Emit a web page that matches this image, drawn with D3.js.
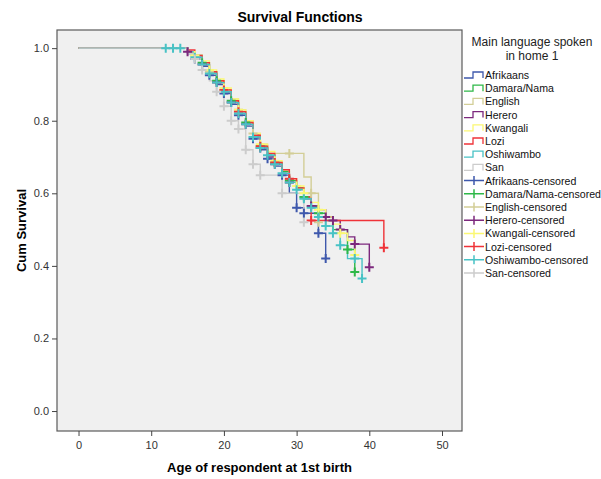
<!DOCTYPE html>
<html><head><meta charset="utf-8">
<script src="https://cdn.jsdelivr.net/npm/d3@7"></script>
<style>
body{margin:0;background:#fff;}
text{font-family:"Liberation Sans",Arial,sans-serif;}
</style></head>
<body><svg id="chart" width="601" height="479"></svg>
<script>
const groups = ["Afrikaans","Damara/Nama","English","Herero","Kwangali","Lozi","Oshiwambo","San"];
const colors = ["#3E58AC","#2EB848","#D3CE97","#7C287D","#FBF873","#EF3338","#48C2C5","#CCCCCC"];
const ageTicks = [0,10,20,30,40,50];
const survTicks = [0,0.2,0.4,0.6,0.8,1.0];

const afrikaansAge  = [15,16,17,18,19,20,21,22,23,24,25,26,27,28,29,30,31,33,34];
const afrikaansSurv = [0.985,0.97,0.95,0.925,0.90,0.875,0.845,0.815,0.785,0.75,0.72,0.695,0.675,0.65,0.60,0.56,0.545,0.49,0.42];
const afrikaansCens = [16,18,20,22,24,26,28,30,31,33,34];

const damaraAge  = [15,16,17,18,19,20,21,22,23,24,25,26,27,28,29,30,31,32,33,34,35,37,38];
const damaraSurv = [0.99,0.98,0.96,0.935,0.91,0.885,0.855,0.825,0.795,0.76,0.73,0.705,0.685,0.66,0.635,0.615,0.59,0.565,0.545,0.525,0.50,0.445,0.383];
const damaraCens = [17,19,21,23,25,27,29,31,33,37,38];

const englishAge  = [15,16,17,18,19,20,21,22,23,24,25,26,31,32,33];
const englishSurv = [0.99,0.98,0.96,0.935,0.91,0.885,0.86,0.83,0.80,0.765,0.735,0.71,0.645,0.60,0.52];
const englishCens = [16,18,20,22,24,29,32,33];

const hereroAge  = [15,16,17,18,19,20,21,22,23,24,25,26,27,28,29,30,31,32,33,34,35,36,37,38,40];
const hereroSurv = [0.99,0.975,0.955,0.93,0.905,0.88,0.85,0.82,0.79,0.755,0.725,0.70,0.68,0.655,0.63,0.61,0.585,0.565,0.555,0.535,0.525,0.50,0.48,0.46,0.396];
const hereroCens = [15,17,19,21,23,25,27,29,32,34,35,36,38,40];

const kwangaliAge  = [15,16,17,18,19,20,21,22,23,24,25,26,27,28,29,30,31,32,33,34,35,36,37,38];
const kwangaliSurv = [0.99,0.98,0.965,0.94,0.915,0.89,0.86,0.83,0.80,0.765,0.735,0.715,0.69,0.665,0.64,0.62,0.60,0.575,0.555,0.535,0.515,0.49,0.47,0.43];
const kwangaliCens = [16,18,20,22,25,27,30,31,33,36,38];

const loziAge  = [15,16,17,18,19,20,21,22,23,24,25,26,27,28,29,30,31,32,42];
const loziSurv = [0.995,0.98,0.96,0.935,0.91,0.885,0.855,0.825,0.795,0.76,0.73,0.71,0.685,0.665,0.64,0.615,0.59,0.525,0.45];
const loziCens = [20,22,25,27,29,32,42];

const oshiwamboAge  = [15,16,17,18,19,20,21,22,23,24,25,26,27,28,29,30,31,32,33,34,35,36,37,39];
const oshiwamboSurv = [0.99,0.975,0.955,0.93,0.905,0.88,0.85,0.82,0.79,0.755,0.725,0.705,0.68,0.655,0.63,0.61,0.585,0.56,0.535,0.51,0.49,0.457,0.42,0.365];
const oshiwamboCens = [12,13,14,16,17,18,19,20,21,22,23,24,25,26,27,28,29,30,31,32,33,34,35,36,38,39];

const sanAge  = [15,16,17,18,19,20,21,22,23,24,25,28,31];
const sanSurv = [0.985,0.97,0.94,0.91,0.88,0.84,0.80,0.777,0.72,0.68,0.65,0.60,0.52];
const sanCens = [16,17,19,20,21,22,23,24,25,28,31];

const series = [
  [afrikaansAge, afrikaansSurv, afrikaansCens],
  [damaraAge, damaraSurv, damaraCens],
  [englishAge, englishSurv, englishCens],
  [hereroAge, hereroSurv, hereroCens],
  [kwangaliAge, kwangaliSurv, kwangaliCens],
  [loziAge, loziSurv, loziCens],
  [oshiwamboAge, oshiwamboSurv, oshiwamboCens],
  [sanAge, sanSurv, sanCens]
];

const svg = d3.select("#chart");
const L = 57, R = 462, T = 30, B = 431;
const x = d3.scaleLinear().domain([-2.96, 52.75]).range([L, R]);
const y = d3.scaleLinear().domain([-0.055, 1.05]).range([B, T]);

svg.append("rect").attr("x", L).attr("y", T).attr("width", R - L).attr("height", B - T)
  .attr("fill", "#f0f0f0").attr("stroke", "#5a5a5a").attr("stroke-width", 1.2);

// axes
const xAxis = svg.append("g").attr("transform", `translate(0,${B})`)
  .call(d3.axisBottom(x).tickValues(ageTicks).tickSize(5).tickSizeOuter(0).tickFormat(d3.format("d")));
const yAxis = svg.append("g").attr("transform", `translate(${L},0)`)
  .call(d3.axisLeft(y).tickValues(survTicks).tickSize(5).tickSizeOuter(0).tickFormat(d3.format(".1f")));
[xAxis, yAxis].forEach(g => {
  g.select(".domain").remove();
  g.selectAll(".tick line").attr("stroke", "#444");
  g.selectAll(".tick text").attr("fill", "#333").style("font-size", "11px")
   .style("font-family", "'Liberation Sans',Arial,sans-serif");
});
xAxis.selectAll(".tick text").attr("dy", "0.9em");

// step function helper
function survAt(ages, surv, t) {
  let s = 1;
  for (let i = 0; i < ages.length; i++) if (ages[i] <= t) s = surv[i];
  return s;
}
const line = d3.line().x(d => x(d[0])).y(d => y(d[1])).curve(d3.curveStepAfter);

const plot = svg.append("g");
series.forEach(([ages, surv, cens], i) => {
  const pts = [[0, 1]];
  ages.forEach((a, k) => pts.push([a, surv[k]]));
  const end = Math.max(d3.max(ages), d3.max(cens));
  pts.push([end, surv[surv.length - 1]]);
  plot.append("path").attr("d", line(pts)).attr("fill", "none")
    .attr("stroke", colors[i]).attr("stroke-width", 1.4);
});
series.forEach(([ages, surv, cens], i) => {
  cens.forEach(c => {
    const cx = x(c), cy = y(survAt(ages, surv, c));
    plot.append("path").attr("d", `M${cx-4.5},${cy}H${cx+4.5}M${cx},${cy-4.5}V${cy+4.5}`)
      .attr("stroke", colors[i]).attr("stroke-width", 2).attr("fill", "none");
  });
});

// titles
svg.append("text").attr("x", 300).attr("y", 22).attr("text-anchor", "middle")
  .style("font-size", "14px").style("font-weight", "bold").text("Survival Functions");
svg.append("text").attr("x", (L + R) / 2).attr("y", 472).attr("text-anchor", "middle")
  .style("font-size", "13px").style("font-weight", "bold").text("Age of respondent at 1st birth");
svg.append("text").attr("transform", `translate(26,${(T + B) / 2}) rotate(-90)`).attr("text-anchor", "middle")
  .style("font-size", "13px").style("font-weight", "bold").text("Cum Survival");

// legend
const lg = svg.append("g");
lg.append("text").attr("x", 532).attr("y", 46).attr("text-anchor", "middle")
  .style("font-size", "12px").attr("fill", "#222").text("Main language spoken");
lg.append("text").attr("x", 532).attr("y", 60).attr("text-anchor", "middle")
  .style("font-size", "12px").attr("fill", "#222").text("in home 1");
const items = groups.map((g, i) => ({label: g, color: colors[i], cens: false}))
  .concat(groups.map((g, i) => ({label: g + "-censored", color: colors[i], cens: true})));
items.forEach((it, i) => {
  const yy = 75 + i * 13.2;
  if (!it.cens) {
    lg.append("path").attr("d", `M464,${yy+3}H473V${yy-3}H483V${yy+3}`)
      .attr("fill", "none").attr("stroke", it.color).attr("stroke-width", 1.3);
  } else {
    lg.append("path").attr("d", `M464,${yy}H484M474,${yy-4.5}V${yy+4.5}`)
      .attr("fill", "none").attr("stroke", it.color).attr("stroke-width", 1.5);
  }
  lg.append("text").attr("x", 485).attr("y", yy + 4).style("font-size", "10.6px")
    .attr("fill", "#111").text(it.label);
});
</script></body></html>
